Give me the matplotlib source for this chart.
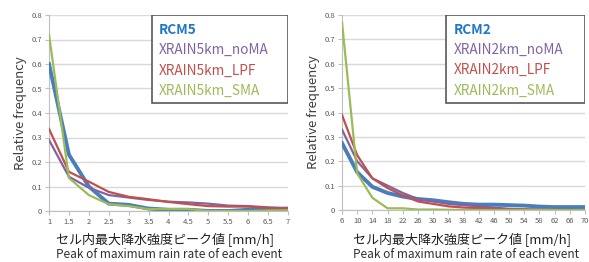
import numpy as np
import matplotlib.pyplot as plt

plt.rcParams['font.family'] = ['Noto Sans CJK JP', 'DejaVu Sans']

# left panel (5km)
x5 = [1, 1.5, 2, 2.5, 3, 3.5, 4, 4.5, 5, 5.5, 6, 6.5, 7]
rcm5 = [0.60, 0.23, 0.10, 0.030, 0.025, 0.010, 0.005, 0.005, 0.0, 0.0, 0.005, 0.005, 0.010]
nom5 = [0.29, 0.14, 0.095, 0.065, 0.055, 0.045, 0.038, 0.035, 0.030, 0.022, 0.020, 0.015, 0.012]
lpf5 = [0.335, 0.16, 0.12, 0.078, 0.058, 0.048, 0.037, 0.028, 0.020, 0.018, 0.018, 0.012, 0.010]
sma5 = [0.72, 0.135, 0.065, 0.028, 0.020, 0.008, 0.008, 0.008, 0.0, 0.0, 0.0, 0.002, 0.003]

# right panel (2km)
x2 = [6, 10, 14, 18, 22, 26, 30, 34, 38, 42, 46, 50, 54, 58, 62, 66, 70]
rcm2 = [0.275, 0.155, 0.095, 0.070, 0.055, 0.045, 0.040, 0.032, 0.025, 0.022, 0.022,
        0.020, 0.018, 0.014, 0.012, 0.012, 0.012]
nom2 = [0.33, 0.20, 0.13, 0.10, 0.070, 0.045, 0.035, 0.025, 0.020, 0.015, 0.010,
        0.005, 0.003, 0.002, 0.001, 0.0, 0.0]
lpf2 = [0.39, 0.225, 0.13, 0.09, 0.060, 0.035, 0.025, 0.015, 0.010, 0.008, 0.005,
        0.003, 0.002, 0.001, 0.0, 0.0, 0.0]
sma2 = [0.77, 0.15, 0.05, 0.007, 0.007, 0.002, 0.002, 0.001, 0.0, 0.0, 0.0,
        0.0, 0.0, 0.0, 0.0, 0.0, 0.0]

yticks = [0, 0.1, 0.2, 0.3, 0.4, 0.5, 0.6, 0.7, 0.8]

blue = '#4a7ebb'
purple = '#8064a2'
red = '#c0504d'
green = '#9bbb59'
grey = '#595959'

fig = plt.figure(figsize=(5.89, 2.62), dpi=100)
ax1 = fig.add_axes([49 / 589, 51 / 262, 239 / 589, 196 / 262])
ax2 = fig.add_axes([342 / 589, 52 / 262, 243 / 589, 195 / 262])


def draw(ax, x, series, names, xticklabels):
    cols = [blue, purple, red, green]
    widths = [2.8, 1.6, 1.6, 1.6]
    for s, c, w in zip(series, cols, widths):
        ax.plot(x, s, color=c, lw=w, zorder=3)
    ax.set_xlim(x[0], x[-1])
    ax.set_ylim(0, 0.8)
    ax.set_yticks(yticks)
    ax.set_yticklabels(['0'] + ['%.1f' % v for v in yticks[1:]])
    ax.set_xticks(x)
    ax.set_xticklabels(xticklabels)
    ax.grid(axis='y', color='#d9d9d9', lw=1)
    ax.set_axisbelow(True)
    for s in ['top', 'right']:
        ax.spines[s].set_visible(False)
    for s in ['left', 'bottom']:
        ax.spines[s].set_color('#bfbfbf')
    ax.tick_params(axis='both', colors='#bfbfbf', labelcolor=grey,
                   labelsize=5.5, length=3, width=0.8, pad=2)
    ax.set_ylabel('Relative frequency', fontsize=9.5, color='#404040', labelpad=3)
    # legend box
    lx, ly = 0.43, 0.55
    ax.add_patch(plt.Rectangle((lx, ly), 0.57, 0.45, transform=ax.transAxes,
                               fill=True, facecolor='white', edgecolor='#595959',
                               lw=1.2, zorder=4))
    for i, (n, c) in enumerate(zip(names, cols)):
        ax.text(lx + 0.03, 0.925 - i * 0.104, n, transform=ax.transAxes,
                color='#1f77c8' if i == 0 else c, fontsize=9.8,
                fontweight='bold' if i == 0 else 'normal',
                va='center', ha='left', zorder=5)


draw(ax1, x5, [rcm5, nom5, lpf5, sma5],
     ['RCM5', 'XRAIN5km_noMA', 'XRAIN5km_LPF', 'XRAIN5km_SMA'],
     [('%g' % v) for v in x5])
draw(ax2, x2, [rcm2, nom2, lpf2, sma2],
     ['RCM2', 'XRAIN2km_noMA', 'XRAIN2km_LPF', 'XRAIN2km_SMA'],
     [str(v) for v in x2])

fig.text(56 / 589, 1 - 240 / 262, 'セル内最大降水強度ピーク値 [mm/h]',
         fontsize=9.4, color='#202020', ha='left', va='center')
fig.text(56 / 589, 1 - 255 / 262, 'Peak of maximum rain rate of each event',
         fontsize=8.5, color='#303030', ha='left', va='center')
fig.text(353 / 589, 1 - 240 / 262, 'セル内最大降水強度ピーク値 [mm/h]',
         fontsize=9.4, color='#202020', ha='left', va='center')
fig.text(353 / 589, 1 - 255 / 262, 'Peak of maximum rain rate of each event',
         fontsize=8.5, color='#303030', ha='left', va='center')

fig.savefig('out.png', dpi=100)
